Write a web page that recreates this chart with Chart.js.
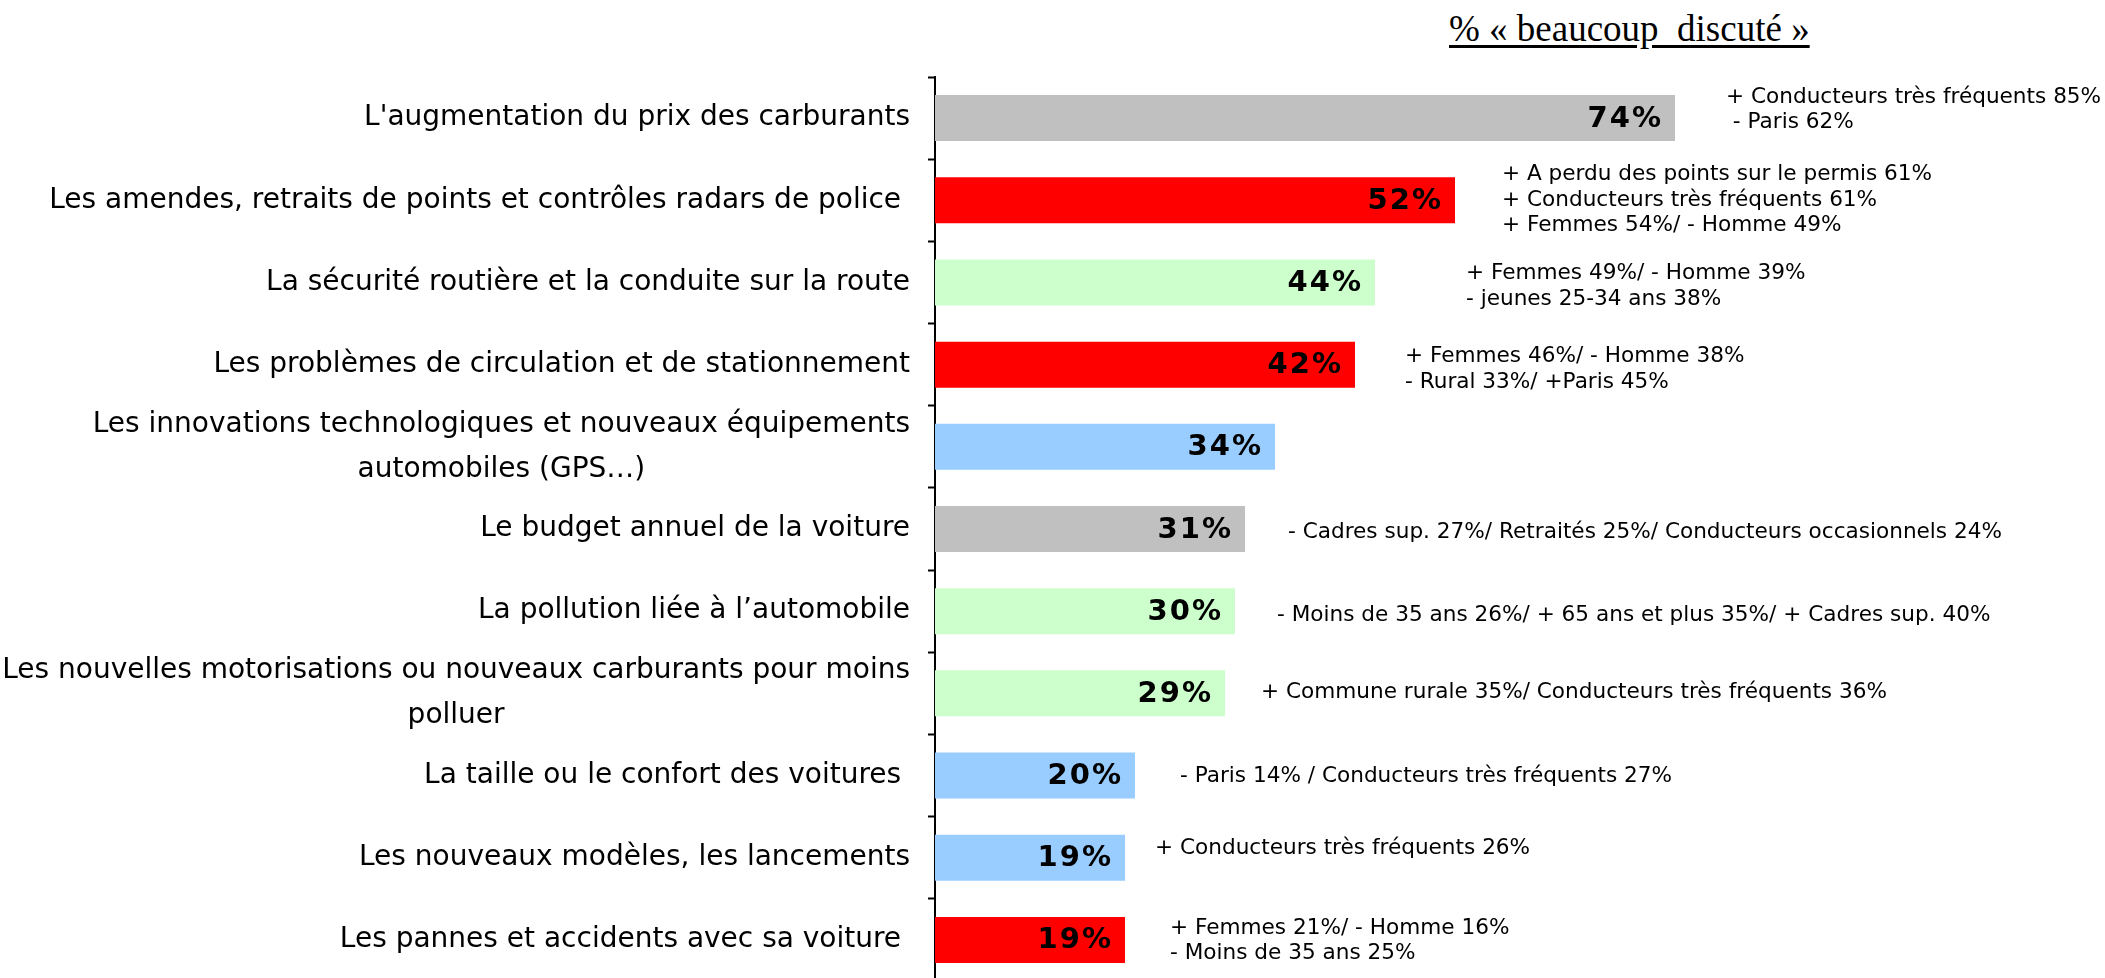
<!DOCTYPE html>
<html>
<head>
<meta charset="utf-8">
<script src="https://cdn.jsdelivr.net/npm/chart.js@4.4.0/dist/chart.umd.min.js"></script>
<style>
  html, body { margin: 0; padding: 0; background: #fff; overflow: hidden; }
  #wrap { position: relative; width: 2105px; height: 978px; }
  #title {
    position: absolute; left: 1449px; top: 7px;
    font-family: "Liberation Serif", "Times New Roman", serif;
    font-size: 37px; color: #000; white-space: pre;
    text-decoration: underline; text-underline-offset: 4px;
  }
  #c { position: absolute; left: 0; top: 0; }
</style>
</head>
<body>
<div id="wrap">
  <div id="title">% « beaucoup  discuté »</div>
  <canvas id="c" width="2105" height="982"></canvas>
</div>
<script>
const topics = [
  "L'augmentation du prix des carburants",
  "Les amendes, retraits de points et contrôles radars de police ",
  "La sécurité routière et la conduite sur la route",
  "Les problèmes de circulation et de stationnement",
  ["Les innovations technologiques et nouveaux équipements", "automobiles (GPS…)"],
  "Le budget annuel de la voiture",
  "La pollution liée à l’automobile",
  ["Les nouvelles motorisations ou nouveaux carburants pour moins", "polluer"],
  "La taille ou le confort des voitures ",
  "Les nouveaux modèles, les lancements",
  "Les pannes et accidents avec sa voiture ",
];

const shares = [74, 52, 44, 42, 34, 31, 30, 29, 20, 19, 19];

const barColors = [
  "#C0C0C0", "#FF0000", "#CCFFCC", "#FF0000", "#99CCFF", "#C0C0C0",
  "#CCFFCC", "#CCFFCC", "#99CCFF", "#99CCFF", "#FF0000",
];

const notes = [
  ["+ Conducteurs très fréquents 85%", " - Paris 62%"],
  ["+ A perdu des points sur le permis 61%", "+ Conducteurs très fréquents 61%", "+ Femmes 54%/ - Homme 49%"],
  ["+ Femmes 49%/ - Homme 39%", "- jeunes 25-34 ans 38%"],
  ["+ Femmes 46%/ - Homme 38%", "- Rural 33%/ +Paris 45%"],
  [],
  ["- Cadres sup. 27%/ Retraités 25%/ Conducteurs occasionnels 24%"],
  ["- Moins de 35 ans 26%/ + 65 ans et plus 35%/ + Cadres sup. 40%"],
  ["+ Commune rurale 35%/ Conducteurs très fréquents 36%"],
  ["- Paris 14% / Conducteurs très fréquents 27%"],
  ["+ Conducteurs très fréquents 26%"],
  ["+ Femmes 21%/ - Homme 16%", "- Moins de 35 ans 25%"],
];

// where each note block sits relative to its bar end / row centre (px)
const noteGap = [51, 47, 91, 50, 0, 43, 42, 36, 45, 30, 45];
const noteDy = [-8, 0, 4, 5, 0, 3, 4, -1, 1, -9, 1];

const FONT = '"DejaVu Sans", Verdana, sans-serif';

const annotate = {
  id: "annotate",
  afterDatasetsDraw(chart) {
    const { ctx, scales: { x, y } } = chart;
    ctx.save();
    ctx.fillStyle = "#000";
    ctx.textBaseline = "middle";
    ctx.textAlign = "left";

    topics.forEach((t, i) => {
      const yc = y.getPixelForValue(i);

      // category label, multi-line blocks centred on their widest line
      const lines = Array.isArray(t) ? t : [t];
      ctx.font = "28px " + FONT;
      const widths = lines.map((l) => ctx.measureText(l).width);
      const wMax = Math.max(...widths);
      const right = x.left - 25;
      lines.forEach((l, k) => {
        const ly = yc + (k - (lines.length - 1) / 2) * 45;
        ctx.fillText(l, right - wMax + (wMax - widths[k]) / 2, ly);
      });

      // value inside bar
      const end = x.getPixelForValue(shares[i]);
      ctx.font = "bold 29px " + FONT;
      ctx.letterSpacing = "2px";
      ctx.textAlign = "right";
      ctx.fillText(shares[i] + "%", end - 12, yc + 1);
      ctx.letterSpacing = "0px";
      ctx.textAlign = "left";

      // side notes
      const n = notes[i];
      ctx.font = "21.6px " + FONT;
      n.forEach((l, k) => {
        const ly = yc + noteDy[i] + (k - (n.length - 1) / 2) * 25.5;
        ctx.fillText(l, end + noteGap[i], ly);
      });
    });
    ctx.restore();
  },
};

new Chart(document.getElementById("c").getContext("2d"), {
  type: "bar",
  data: {
    labels: topics.map((t) => (Array.isArray(t) ? t.join(" ") : t)),
    datasets: [
      {
        data: shares,
        backgroundColor: barColors,
        borderWidth: 0,
        categoryPercentage: 1,
        barPercentage: 0.56,
      },
    ],
  },
  options: {
    indexAxis: "y",
    responsive: false,
    animation: false,
    layout: { padding: { top: 77, bottom: 1, left: 0, right: 0 } },
    plugins: { legend: { display: false }, tooltip: { enabled: false } },
    scales: {
      x: { type: "linear", min: 0, max: 117, display: false },
      y: {
        afterFit: (scale) => { scale.width = 935; },
        border: { display: true, color: "#000", width: 2 },
        grid: {
          drawOnChartArea: false,
          drawTicks: true,
          tickLength: 7,
          tickColor: "#000",
          tickWidth: 2,
        },
        ticks: { display: false },
      },
    },
  },
  plugins: [annotate],
});
</script>
</body>
</html>
